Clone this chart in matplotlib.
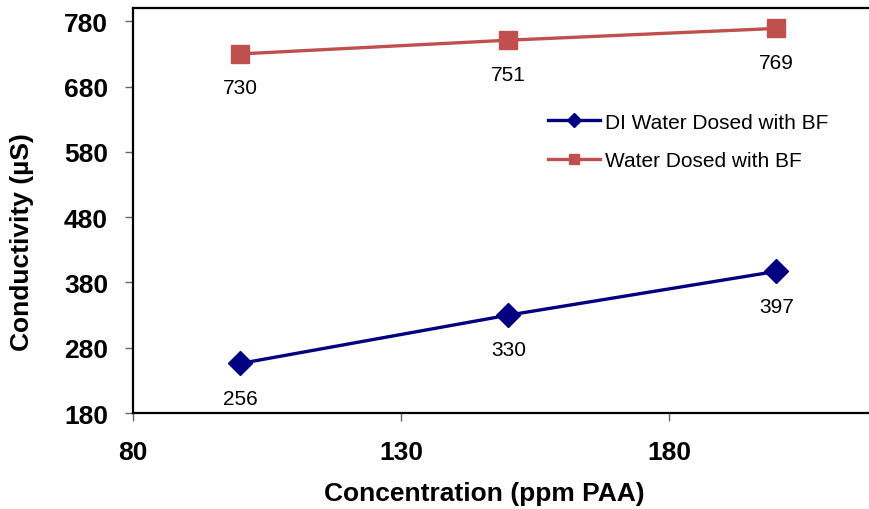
import matplotlib
matplotlib.use("Agg")
import matplotlib.pyplot as plt

# data
konsantrasyon = [100, 150, 200]
di_su = [256, 330, 397]
su = [730, 751, 769]
seri_adlari = ["DI Water Dosed with BF", "Water Dosed with BF"]

plt.rcParams['font.family'] = ['Liberation Sans', 'DejaVu Sans']

fig = plt.figure(figsize=(8.7, 5.1), dpi=100)
ax = fig.add_axes([0.153, 0.188, 0.924, 0.794])

mavi = '#000080'
kirmizi = '#C0504D'

ax.plot(konsantrasyon, di_su, color=mavi, lw=2.4, marker='D', markersize=12,
        label=seri_adlari[0])
ax.plot(konsantrasyon, su, color=kirmizi, lw=2.4, marker='s', markersize=12.5,
        label=seri_adlari[1])

# veri etiketleri (nokta altinda)
for x, y in zip(konsantrasyon, di_su):
    ax.annotate(str(y), (x, y), xytext=(0, -25), textcoords='offset points',
                ha='center', va='center', fontsize=15)
for x, y in zip(konsantrasyon, su):
    ax.annotate(str(y), (x, y), xytext=(0, -24.5), textcoords='offset points',
                ha='center', va='center', fontsize=15)

ax.set_xlim(80, 230)
ax.set_ylim(180, 800)
ax.set_xticks([80, 130, 180])
ax.set_yticks([180, 280, 380, 480, 580, 680, 780])

for s in ['left', 'bottom', 'top']:
    ax.spines[s].set_linewidth(1.6)
    ax.spines[s].set_color('black')
ax.spines['right'].set_visible(False)

ax.tick_params(axis='y', direction='out', length=6, width=1, color='#666666',
               pad=12, labelsize=19)
ax.tick_params(axis='x', direction='out', length=6, width=1, color='#666666',
               pad=13, labelsize=19)
for lbl in ax.get_xticklabels() + ax.get_yticklabels():
    lbl.set_fontweight('bold')

ax.set_xlabel("Concentration (ppm PAA)", fontsize=19, fontweight='bold', va='center')
ax.set_ylabel("Conductivity (µS)", fontsize=19, fontweight='bold', va='center')
ax.xaxis.set_label_coords(0.437, -0.198)
ax.yaxis.set_label_coords(-0.138, 0.425)

ax.legend(loc='upper left', bbox_to_anchor=(0.608, 0.814), bbox_transform=fig.transFigure,
          frameon=False, fontsize=15, handlelength=2.5, markerscale=0.6,
          labelspacing=0.95, handletextpad=0.25)

fig.savefig("out.png", dpi=100)
